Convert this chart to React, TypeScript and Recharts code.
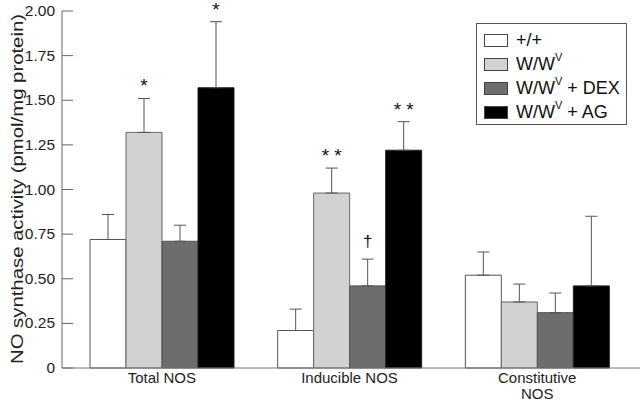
import { BarChart, Bar, XAxis, YAxis, ErrorBar, LabelList } from 'recharts';

const categories = ['Total NOS', 'Inducible NOS', 'Constitutive\nNOS'];

const wildType = [0.72, 0.21, 0.52];
const wildTypeErr = [0.14, 0.12, 0.13];
const mutant = [1.32, 0.98, 0.37];
const mutantErr = [0.19, 0.14, 0.1];
const mutantDex = [0.71, 0.46, 0.31];
const mutantDexErr = [0.09, 0.15, 0.11];
const mutantAg = [1.57, 1.22, 0.46];
const mutantAgErr = [0.37, 0.16, 0.39];

const mutantMarks = ['*', '* *', ''];
const mutantDexMarks = ['', '\u2020', ''];
const mutantAgMarks = ['*', '* *', ''];

const yTicks = [0, 0.25, 0.5, 0.75, 1, 1.25, 1.5, 1.75, 2];

const rows = categories.map((name, i) => ({
  name,
  wt: wildType[i],
  wtErr: [0, wildTypeErr[i]],
  wv: mutant[i],
  wvErr: [0, mutantErr[i]],
  wvMark: mutantMarks[i],
  dex: mutantDex[i],
  dexErr: [0, mutantDexErr[i]],
  dexMark: mutantDexMarks[i],
  ag: mutantAg[i],
  agErr: [0, mutantAgErr[i]],
  agMark: mutantAgMarks[i],
}));

const FONT = '"Liberation Sans", Arial, Helvetica, sans-serif';

// significance marks sit just above the error whisker
const markLabel = (vals: number[], errs: number[]) => (props: any) => {
  const { x, y, width, height, value, index } = props;
  if (!value) return null;
  const errPx = (errs[index] * height) / vals[index];
  const top = y - errPx;
  const isDagger = value === '\u2020';
  return (
    <text
      x={x + width / 2}
      y={top - (isDagger ? 12 : 6)}
      textAnchor="middle"
      fontSize={isDagger ? 17 : 19}
      fontFamily={FONT}
      fill="#111"
    >
      {value}
    </text>
  );
};

const YTick = (props: any) => {
  const { x, y, payload } = props;
  const v = payload.value;
  return (
    <g>
      <line x1={x} x2={x + 11} y1={y} y2={y} stroke="#666" />
      <text x={x - 7} y={y + 5} textAnchor="end" fontSize={15.5} fontFamily={FONT} fill="#222">
        {v === 0 ? '0' : v.toFixed(2)}
      </text>
    </g>
  );
};

const XTick = (props: any) => {
  const { x, y, payload } = props;
  const lines = String(payload.value).split('\n');
  return (
    <g>
      {lines.map((l, i) => (
        <text key={i} x={x} y={y + 15 + i * 16} textAnchor="middle" fontSize={15} fontFamily={FONT} fill="#222">
          {l}
        </text>
      ))}
    </g>
  );
};

const YLabel = () => (
  <text
    transform="translate(23,189) rotate(-90)"
    textAnchor="middle"
    fontSize={16}
    fontFamily={FONT}
    fill="#222"
    textLength={350}
    lengthAdjust="spacingAndGlyphs"
  >
    NO synthase activity (pmol/mg protein)
  </text>
);

const legendItems = [
  { fill: '#ffffff', label: '+/+', extra: null as string | null, sup: false },
  { fill: '#d2d2d2', label: 'W/W', extra: '', sup: true },
  { fill: '#6d6d6d', label: 'W/W', extra: ' + DEX', sup: true },
  { fill: '#000000', label: 'W/W', extra: ' + AG', sup: true },
];

export default function App() {
  return (
    <div style={{ position: 'absolute', left: 0, top: 0, width: 640, height: 400, background: '#fff' }}>
      <BarChart
        width={640}
        height={400}
        data={rows}
        margin={{ top: 11, right: 0, left: 0, bottom: 0 }}
        barCategoryGap={22}
        barGap={0}
      >
        <XAxis
          dataKey="name"
          height={32}
          tickLine={false}
          tickSize={0}
          tickMargin={0}
          axisLine={{ stroke: '#777' }}
          tick={<XTick />}
          padding={{ left: 6, right: 9 }}
          interval={0}
        />
        <YAxis
          width={62}
          domain={[0, 2]}
          ticks={yTicks}
          tickLine={false}
          tickSize={0}
          tickMargin={0}
          axisLine={{ stroke: '#666' }}
          tick={<YTick />}
          label={<YLabel />}
          interval={0}
        />
        <Bar dataKey="wt" fill="#ffffff" stroke="#555" strokeWidth={1} isAnimationActive={false}>
          <ErrorBar dataKey="wtErr" width={6} stroke="#555" strokeWidth={1} />
        </Bar>
        <Bar dataKey="wv" fill="#d2d2d2" stroke="#666" strokeWidth={1} isAnimationActive={false}>
          <ErrorBar dataKey="wvErr" width={6} stroke="#555" strokeWidth={1} />
          <LabelList dataKey="wvMark" content={markLabel(mutant, mutantErr)} />
        </Bar>
        <Bar dataKey="dex" fill="#6d6d6d" stroke="#555" strokeWidth={1} isAnimationActive={false}>
          <ErrorBar dataKey="dexErr" width={6} stroke="#555" strokeWidth={1} />
          <LabelList dataKey="dexMark" content={markLabel(mutantDex, mutantDexErr)} />
        </Bar>
        <Bar dataKey="ag" fill="#000000" stroke="#222" strokeWidth={1} isAnimationActive={false}>
          <ErrorBar dataKey="agErr" width={6} stroke="#555" strokeWidth={1} />
          <LabelList dataKey="agMark" content={markLabel(mutantAg, mutantAgErr)} />
        </Bar>
      </BarChart>

      {/* legend box */}
      <div
        style={{
          position: 'absolute',
          left: 476,
          top: 23,
          width: 149,
          height: 100,
          border: '1px solid #555',
          background: '#fff',
          fontFamily: FONT,
          fontSize: 18,
          color: '#111',
        }}
      >
        {legendItems.map((it, i) => (
          <div
            key={i}
            style={{ position: 'absolute', left: 7, top: 5 + i * 24, height: 22, display: 'flex', alignItems: 'center' }}
          >
            <span
              style={{
                display: 'inline-block',
                width: 22,
                height: 11,
                background: it.fill,
                border: '1px solid #444',
                marginRight: 8,
              }}
            />
            <span style={{ whiteSpace: 'pre' }}>
              {it.label}
              {it.sup && <sup style={{ fontSize: 11, verticalAlign: 'top', position: 'relative', top: -3 }}>V</sup>}
              {it.extra}
            </span>
          </div>
        ))}
      </div>
    </div>
  );
}
